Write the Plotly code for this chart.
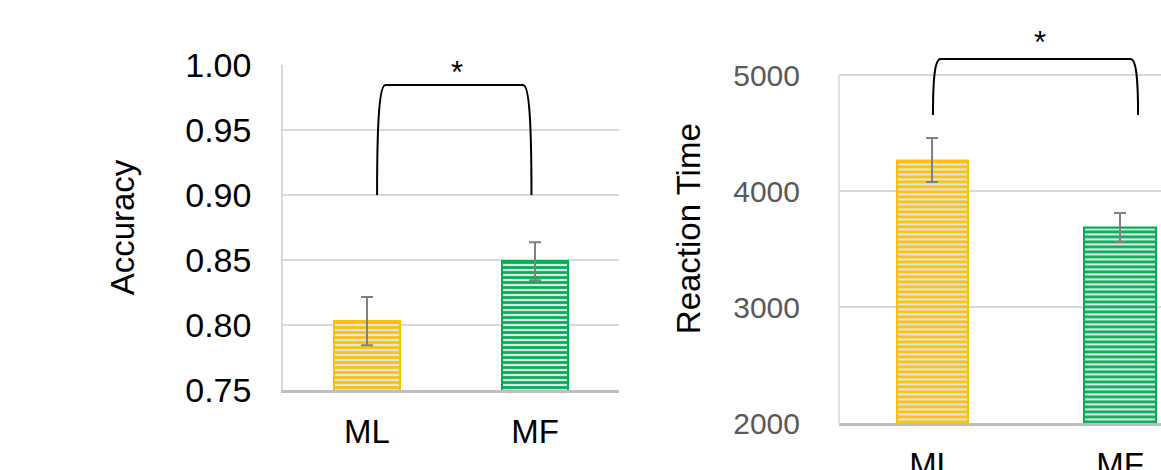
import plotly.graph_objects as go

# ---- data ----
categories = ["ML", "MF"]
accuracy = [0.803, 0.849]
accuracy_err = [0.0185, 0.0146]
reaction_time = [4267, 3685]
reaction_time_err = [190, 125]
acc_ticks = [0.75, 0.80, 0.85, 0.90, 0.95, 1.00]
rt_ticks = [2000, 3000, 4000, 5000]
# significance brackets: (x_left, x_right, y_bottom, y_top, star_x, star_y)
acc_bracket = (0.06, 0.979, 0.90, 0.9846, 0.536, 0.994)
rt_bracket = (0.005, 1.096, 4655, 5138, 0.574, 5276)

yellow = "#FFC000"
green = "#00B050"
bar_bg = "#dfe5ec"
FONT = "Liberation Sans, Arial, sans-serif"

xs = list(range(len(categories)))

fig = go.Figure()

def add_bars(vals, errs, xa, ya, width):
    for i, (v, e) in enumerate(zip(vals, errs)):
        col = yellow if i == 0 else green
        fig.add_trace(go.Bar(
            x=[xs[i]], y=[v], width=width, xaxis=xa, yaxis=ya,
            marker=dict(color=bar_bg,
                        line=dict(color=col, width=2),
                        pattern=dict(shape="-", fgcolor=col, bgcolor=bar_bg,
                                     size=5, solidity=0.55, fgopacity=1)),
            error_y=dict(type="data", array=[e], visible=True,
                         color="#808080", thickness=2, width=6),
            hoverinfo="skip",
        ))

add_bars(accuracy, accuracy_err, "x", "y", 0.39)
add_bars(reaction_time, reaction_time_err, "x2", "y2", 0.378)

def bracket_path(x0, x1, yb, yt, dx):
    h = yt - yb
    return (f"M {x0},{yb} C {x0},{yt - 0.35*h} {x0 + 0.25*dx},{yt} {x0 + dx},{yt} "
            f"L {x1 - dx},{yt} C {x1 - 0.25*dx},{yt} {x1},{yt - 0.35*h} {x1},{yb}")

shapes = []
x0, x1, yb, yt, sx, sy = acc_bracket
shapes.append(dict(type="path", xref="x", yref="y", path=bracket_path(x0, x1, yb, yt, 0.05),
                   line=dict(color="black", width=2)))
x0b, x1b, ybb, ytb, sxb, syb = rt_bracket
shapes.append(dict(type="path", xref="x2", yref="y2", path=bracket_path(x0b, x1b, ybb, ytb, 0.04),
                   line=dict(color="black", width=2)))
# left axis line of the right chart (up to 5000 only)
shapes.append(dict(type="line", xref="x2 domain", yref="y2", x0=0, x1=0,
                   y0=rt_ticks[0], y1=rt_ticks[-1], line=dict(color="#d9d9d9", width=1.5),
                   layer="below"))

annotations = [
    dict(x=sx, y=sy, xref="x", yref="y", text="*", showarrow=False,
         font=dict(family=FONT, size=31, color="black")),
    dict(x=sxb, y=syb, xref="x2", yref="y2", text="*", showarrow=False,
         font=dict(family=FONT, size=31, color="black")),
]

fig.update_layout(
    width=1161, height=470,
    margin=dict(l=0, r=0, t=0, b=0, autoexpand=False),
    paper_bgcolor="white", plot_bgcolor="white",
    showlegend=False, bargap=0,
    font=dict(family=FONT),
    shapes=shapes, annotations=annotations,
    xaxis=dict(domain=[283/1161, 619/1161], range=[-0.5, 1.5], automargin=False,
               tickvals=xs, ticktext=categories, showgrid=False, zeroline=False,
               showline=True, linecolor="#bfbfbf", linewidth=3,
               tickfont=dict(size=33, color="black", family=FONT),
               ticklabelstandoff=10, anchor="y"),
    yaxis=dict(domain=[80/470, 405/470], range=[0.75, 1.0], automargin=False,
               tickvals=acc_ticks, tickformat=".2f",
               showgrid=True, gridcolor="#d9d9d9", gridwidth=1.5, zeroline=False,
               showline=True, linecolor="#d9d9d9", linewidth=1.5,
               tickfont=dict(size=34, color="black", family=FONT),
               ticklabelstandoff=23,
               title=dict(text="Accuracy", font=dict(size=33, color="black", family=FONT),
                          standoff=41),
               anchor="x"),
    xaxis2=dict(domain=[839/1161, 1.0], range=[-0.495, 1.218], automargin=False,
                tickvals=xs, ticktext=categories, showgrid=False, zeroline=False,
                showline=True, linecolor="#bfbfbf", linewidth=3,
                tickfont=dict(size=33, color="black", family=FONT),
                ticklabelstandoff=10, anchor="y2"),
    yaxis2=dict(domain=[47/470, 435.6/470], range=[2000, 5350], automargin=False,
                tickvals=rt_ticks, showgrid=True, gridcolor="#d9d9d9", gridwidth=1.5,
                zeroline=False, showline=False,
                tickfont=dict(size=30, color="#595959", family=FONT),
                ticklabelstandoff=38,
                title=dict(text="Reaction Time", font=dict(size=33, color="black", family=FONT),
                           standoff=22),
                anchor="x2"),
)

fig.write_html("out.html", config={"displayModeBar": False},
               post_script="document.body.style.margin='0';")
